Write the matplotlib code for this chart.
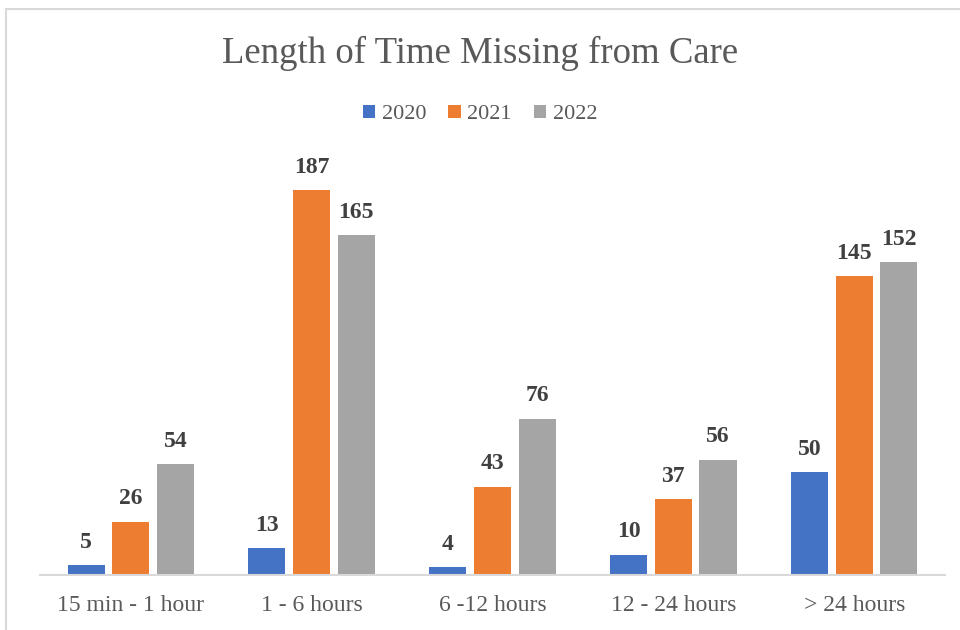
import matplotlib.pyplot as plt
import numpy as np
from matplotlib.patches import Rectangle

plt.rcParams['font.family'] = ['Liberation Serif', 'DejaVu Serif']

categories = ['15 min - 1 hour', '1 - 6 hours', '6 -12 hours', '12 - 24 hours', '> 24 hours']
years = ['2020', '2021', '2022']
values_2020 = [5, 13, 4, 10, 50]
values_2021 = [26, 187, 43, 37, 145]
values_2022 = [54, 165, 76, 56, 152]
colors = ['#4472C4', '#ED7D31', '#A5A5A5']

fig = plt.figure(figsize=(9.6, 6.3), dpi=100)
ax = fig.add_axes([0.042, 0.087, 0.942, 0.654])

x = np.arange(len(categories))
width = 0.205
offsets = [-0.247, 0, 0.247]
for vals, off, col, yr in zip([values_2020, values_2021, values_2022], offsets, colors, years):
    bars = ax.bar(x + off, vals, width, color=col, label=yr)
    for b, v in zip(bars, vals):
        ax.text(b.get_x() + b.get_width() / 2, v + 6, str(v), ha='center', va='bottom',
                fontsize=17, fontweight='bold', color='#404040')

ax.set_xlim(-0.5, 4.5)
ax.set_ylim(0, 200)
ax.set_yticks([])
ax.set_xticks(x)
ax.set_xticklabels(categories, fontsize=17, color='#595959')
ax.tick_params(axis='x', length=0, pad=14)
for s in ['top', 'right', 'left']:
    ax.spines[s].set_visible(False)
ax.spines['bottom'].set_color('#D9D9D9')
ax.spines['bottom'].set_linewidth(1.5)

fig.text(0.5, 0.915, 'Length of Time Missing from Care', ha='center', va='center',
         fontsize=26.5, color='#595959')
fig.legend(loc='center', bbox_to_anchor=(0.5, 0.818), ncol=3, frameon=False,
           fontsize=16, handlelength=0.55, handleheight=0.55, handletextpad=0.3,
           columnspacing=1.0, labelcolor='#595959')

fig.add_artist(Rectangle((6 / 960, -0.05), 1.0, 1 - 9 / 630 + 0.05, transform=fig.transFigure,
                         fill=False, edgecolor='#D9D9D9', linewidth=1.5))

fig.savefig('out.png', dpi=100)
